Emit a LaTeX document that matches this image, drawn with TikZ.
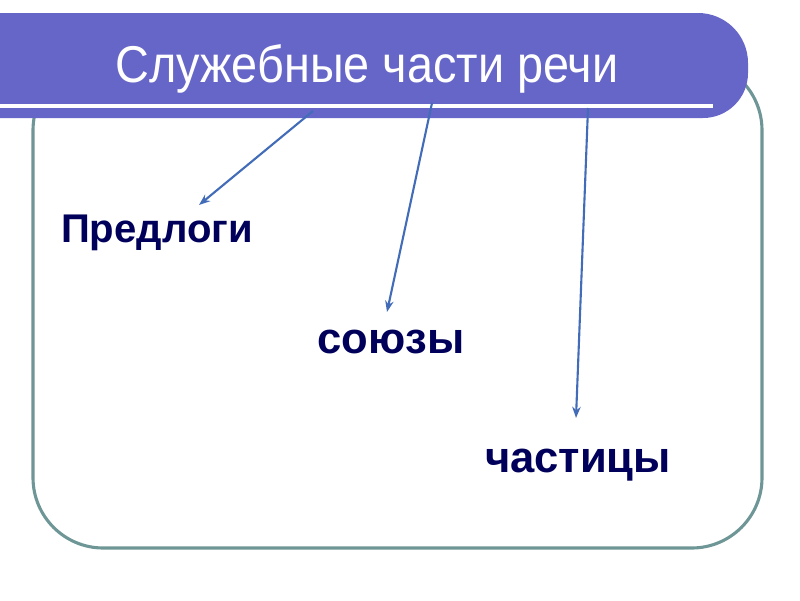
\documentclass[tikz,border=0pt]{standalone}
\usepackage{fontspec}
\setmainfont{Liberation Sans}
\usetikzlibrary{arrows.meta, positioning}

\definecolor{barblue}{RGB}{102,102,200}
\definecolor{framegray}{RGB}{110,150,150}
\definecolor{linkblue}{RGB}{66,108,184}
\definecolor{wordnavy}{RGB}{0,0,90}

\tikzset{
  word/.style={font=\bfseries\fontsize{31}{33}\selectfont, text=wordnavy, inner sep=0pt, anchor=base},
  link/.style={linkblue, line width=1.5pt, -{Stealth[length=8pt, width=6pt]}}
}

\begin{document}
\begin{tikzpicture}[x=0.025cm, y=-0.025cm]
  \useasboundingbox (0,0) rectangle (800,600);

  % Rahmen
  \draw[framegray, line width=2.2pt, rounded corners=50] (33,60) rectangle (762,548);

  % Titelbalken
  \fill[barblue] (0,13) -- (698,13) arc[start angle=-90, end angle=0, radius=50]
    -- (748,73) arc[start angle=0, end angle=90, radius=45] -- (0,118) -- cycle;
  \draw[white, line width=2.5pt] (0,106) -- (713,106);

  % Titel
  \node[font=\fontsize{36.8}{40}\selectfont, text=white, inner sep=0pt, anchor=base] (title) at (367,82) {\scalebox{0.905}[1]{Служебные части речи}};

  % Woerter
  \node[word, font=\bfseries\fontsize{28.5}{30}\selectfont] (prep) at (157,242) {Предлоги};
  \node[word] (conj) at (391,353) {союзы};
  \node[word] (part) at (578,472) {частицы};

  % Pfeile
  \coordinate (s1) at (313,111);
  \coordinate (s2) at (432,103);
  \coordinate (s3) at (588,108);
  \coordinate (e1) at (199,205);
  \coordinate (e2) at (387,312);
  \coordinate (e3) at (576,418);
  \draw[link] (s1) -- (e1);
  \draw[link] (s2) -- (e2);
  \draw[link] (s3) -- (e3);
\end{tikzpicture}
\end{document}
